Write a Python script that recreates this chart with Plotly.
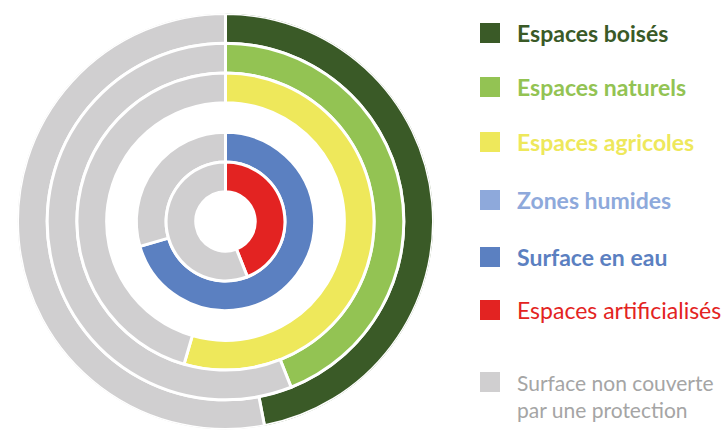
import plotly.graph_objects as go

# Data (outer ring to inner ring)
categories = ["Espaces boisés", "Espaces naturels", "Espaces agricoles",
              "Zones humides", "Surface en eau", "Espaces artificialisés"]
protected_pct = [47, 44, 54.5, None, 70.5, 44]   # % of surface covered by a protection
ring_slot = [6, 5, 4, 3, 2, 1]                    # radial slot of each ring
colors = ["#3A5A27", "#93C353", "#EEE85B", "#8EA9DB", "#5B80C1", "#E32322"]
gray = "#D0CFD0"
other_label = "Surface non couverte<br>par une protection"

fig = go.Figure()

th_c, w_c, b_c, col_c = [], [], [], []
th_g, w_g, b_g = [], [], []
for pct, slot, col in zip(protected_pct, ring_slot, colors):
    if pct is None:
        continue
    th_c.append(pct * 3.6 / 2); w_c.append(pct * 3.6); b_c.append(slot); col_c.append(col)
    rest = 100 - pct
    th_g.append((pct + rest / 2) * 3.6); w_g.append(rest * 3.6); b_g.append(slot)

fig.add_trace(go.Barpolar(r=[1] * len(th_c), base=b_c, theta=th_c, width=w_c,
                          marker=dict(color=col_c, line=dict(color="white", width=3)),
                          showlegend=False, hoverinfo="skip"))
fig.add_trace(go.Barpolar(r=[1] * len(th_g), base=b_g, theta=th_g, width=w_g,
                          marker=dict(color=gray, line=dict(color="white", width=3)),
                          showlegend=False, hoverinfo="skip"))

W, H = 727, 432
cx, cy, R = 225.5, 221.5, 208
fig.update_layout(
    width=W, height=H, margin=dict(l=0, r=0, t=0, b=0),
    paper_bgcolor="white", plot_bgcolor="white",
    polar=dict(
        domain=dict(x=[(cx - R) / W, (cx + R) / W], y=[(H - cy - R) / H, (H - cy + R) / H]),
        bgcolor="white",
        radialaxis=dict(visible=False, range=[0, 7]),
        angularaxis=dict(visible=False, rotation=90, direction="clockwise"),
        bargap=0,
    ),
)

# Legend built from annotations and swatches
leg_labels = categories + [other_label]
leg_colors = colors + [gray]
leg_text_colors = colors + ["#A5A5A5"]
leg_bold = [True, True, True, True, True, False, False]
leg_size = [23, 23, 23, 23, 23, 23, 21]
leg_y = [33, 87, 142, 200, 257, 310, 382]
for lab, c, tc, b, s, y in zip(leg_labels, leg_colors, leg_text_colors, leg_bold, leg_size, leg_y):
    fig.add_shape(type="rect", xref="paper", yref="paper",
                  x0=480 / W, x1=500 / W, y0=(H - y - 10) / H, y1=(H - y + 10) / H,
                  fillcolor=c, line=dict(width=0))
    two = "<br>" in lab
    fig.add_annotation(xref="paper", yref="paper", x=515 / W, y=(H - y) / H,
                       xanchor="left", yanchor="top" if two else "middle",
                       yshift=14 if two else 0,
                       text=f"<b>{lab}</b>" if b else lab, showarrow=False, align="left",
                       font=dict(family="Lato", size=s, color=tc))

fig.write_html("out.html", config={"displayModeBar": False},
               post_script="document.body.style.margin='0';")
